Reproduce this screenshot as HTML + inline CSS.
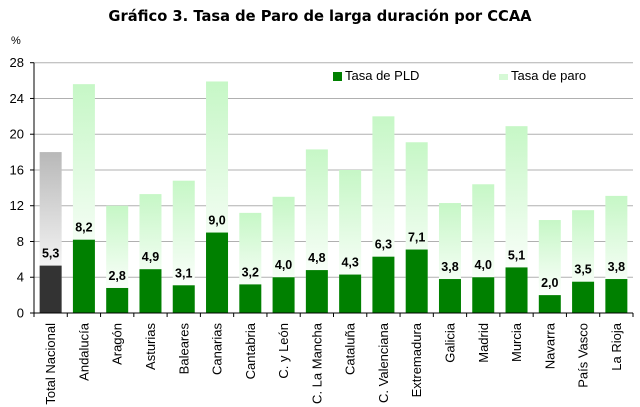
<!DOCTYPE html>
<html><head><meta charset="utf-8"><style>body{margin:0;background:#fff}svg{display:block;font-family:"Liberation Sans",sans-serif}</style></head>
<body>
<svg id="c" width="640" height="407">
<defs>
<linearGradient id="gp" x1="0" y1="0" x2="0" y2="1"><stop offset="0" stop-color="#c6f7c6"/><stop offset="0.85" stop-color="#ffffff"/></linearGradient>
<linearGradient id="gt" x1="0" y1="0" x2="0" y2="1"><stop offset="0" stop-color="#b8b8b8"/><stop offset="0.85" stop-color="#ffffff"/></linearGradient>
</defs>
<text x="320" y="21" text-anchor="middle" font-size="14.7" font-weight="bold" font-family="DejaVu Sans, sans-serif">Gráfico 3. Tasa de Paro de larga duración por CCAA</text>
<text x="11" y="44" font-size="11">%</text>
<g id="grid"></g><g id="bars"></g><g id="axes"></g>
<g>
<rect x="333" y="72" width="9" height="9" fill="#008000"/>
<text x="345" y="80" font-size="13">Tasa de PLD</text>
<rect x="499" y="74" width="9" height="6" fill="#d6f9d6"/>
<text x="511" y="80" font-size="13">Tasa de paro</text>
</g>
</svg>
<script>
const categories=["Total Nacional","Andalucía","Aragón","Asturias","Baleares","Canarias","Cantabria","C. y León","C. La Mancha","Cataluña","C. Valenciana","Extremadura","Galicia","Madrid","Murcia","Navarra","País Vasco","La Rioja"];
const pld=[5.3,8.2,2.8,4.9,3.1,9.0,3.2,4.0,4.8,4.3,6.3,7.1,3.8,4.0,5.1,2.0,3.5,3.8];
const paro=[18.0,25.6,12.0,13.3,14.8,25.9,11.2,13.0,18.3,16.0,22.0,19.1,12.3,14.4,20.9,10.4,11.5,13.1];
const ticks=[0,4,8,12,16,20,24,28];
const NS="http://www.w3.org/2000/svg";
const X0=34,X1=633,Y0=313,Y1=62.7,YMAX=28;
const n=categories.length,slot=(X1-X0)/n,bw=22;
const y=v=>Y0-(Y0-Y1)*v/YMAX;
const xc=i=>X0+slot*(i+0.5);
function mk(t,a,p){const e=document.createElementNS(NS,t);for(const k in a)e.setAttribute(k,a[k]);p.appendChild(e);return e;}
const G=document.getElementById('grid'),B=document.getElementById('bars'),A=document.getElementById('axes');
ticks.forEach(t=>{
 if(t>0){const l=mk('line',{x1:X0,x2:X1,y1:y(t),y2:y(t),stroke:'#b0b0b0','stroke-width':1},G);
 
 }
 const tx=mk('text',{x:24,y:y(t)+4.5,'text-anchor':'end','font-size':13},A);tx.textContent=t;
 
 
 const tk=mk('line',{x1:X0-4,x2:X0,y1:y(t),y2:y(t),stroke:'#000'},A);
 
 
});
categories.forEach((c,i)=>{
 const x=xc(i)-bw/2;
 const bg=mk('rect',{x:x,y:y(paro[i]),width:bw,height:Y0-y(paro[i]),fill:i===0?'url(#gt)':'url(#gp)'},B);
 
 
 const fg=mk('rect',{x:x,y:y(pld[i]),width:bw,height:Y0-y(pld[i]),fill:i===0?'#333333':'#008000'},B);
 
 
 const lb=mk('text',{x:xc(i),y:y(pld[i])-8,'text-anchor':'middle','font-size':12.5,'font-weight':'bold'},B);
 lb.textContent=pld[i].toFixed(1).replace('.',',');
 
 
 const cx=xc(i)+4.5;
 const cl=mk('text',{x:0,y:0,'text-anchor':'end','font-size':13,transform:`translate(${cx},323) rotate(-90)`},A);
 cl.textContent=c;
 
 
});
for(let i=0;i<=n;i++){const t=mk('line',{x1:X0+slot*i,x2:X0+slot*i,y1:Y0,y2:Y0+4,stroke:'#000'},A);
 
 }
const ax=mk('line',{x1:X0,x2:X1,y1:Y0,y2:Y0,stroke:'#000'},A);


const ay=mk('line',{x1:X0,x2:X0,y1:Y1,y2:Y0,stroke:'#000'},A);


</script>
</body></html>
